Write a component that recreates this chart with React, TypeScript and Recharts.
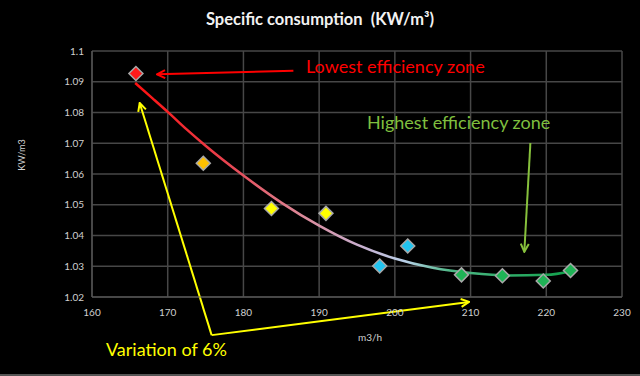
import React from 'react';
import {
  ComposedChart,
  Line,
  Scatter,
  XAxis,
  YAxis,
  CartesianGrid,
  ReferenceLine,
} from 'recharts';

// --- Data ---

const flowRates = [165.8, 174.7, 183.7, 190.9, 198.0, 201.7, 208.8, 214.2, 219.6, 223.2];
const consumption = [1.0927, 1.0635, 1.0488, 1.0472, 1.0301, 1.0366, 1.0272, 1.0269, 1.0252, 1.0286];

// trend line (polynomial fit in the original)
const trendFlow = [165.7, 168, 170, 172.5, 175, 180, 185, 190, 195, 200, 205, 210, 215, 220, 223.3];
const trendValues = [1.0896, 1.0846, 1.0802, 1.0745, 1.0692, 1.0595, 1.0507, 1.0432, 1.037, 1.0325, 1.0295, 1.0278, 1.027, 1.0272, 1.0284];

const xTicks = [160, 170, 180, 190, 200, 210, 220, 230];
const yTicks = [1.02, 1.03, 1.04, 1.05, 1.06, 1.07, 1.08, 1.09, 1.1];

// --- Styles ---

const pointColors = [
  '#ff1a1a', '#ffc000', '#ffff00', '#ffff00', '#22c4f0',
  '#22c4f0', '#1fb356', '#1fb356', '#1fb356', '#1fb356',
];

const FONT = 'Lato, "Open Sans", sans-serif';
const TICK_STYLE = { fill: '#d0d0d0', fontSize: 10, fontFamily: FONT };

const points = flowRates.map((x, i) => ({ x, y: consumption[i], i }));
const trend = trendFlow.map((x, i) => ({ x, y: trendValues[i] }));

const Diamond = (props: any) => {
  const { cx, cy, payload } = props;
  if (cx == null || cy == null) return null;
  const r = 7;
  const color = pointColors[payload.i];
  return (
    <path
      d={`M${cx},${cy - r} L${cx + r},${cy} L${cx},${cy + r} L${cx - r},${cy} Z`}
      fill={color}
      stroke="#a8a8a8"
      strokeWidth={1.5}
    />
  );
};

const overlayText = (style: React.CSSProperties): React.CSSProperties => ({
  position: 'absolute',
  whiteSpace: 'nowrap',
  fontFamily: FONT,
  lineHeight: 1,
  ...style,
});

export default function App() {
  return (
    <div style={{ position: 'absolute', left: 0, top: 0, width: 640, height: 376, background: '#000', overflow: 'hidden' }}>
      <ComposedChart width={640} height={376} margin={{ top: 51, right: 18, bottom: 0, left: 0 }}>
        <defs>
          <linearGradient id="trendGrad" x1="0" y1="0" x2="1" y2="0">
            <stop offset="0%" stopColor="#ff1010" />
            <stop offset="20%" stopColor="#e8404c" />
            <stop offset="38%" stopColor="#dc8898" />
            <stop offset="52%" stopColor="#c8b0d0" />
            <stop offset="62%" stopColor="#b8d0e8" />
            <stop offset="72%" stopColor="#50b888" />
            <stop offset="100%" stopColor="#10a04a" />
          </linearGradient>
          <marker id="arrowRed" viewBox="0 0 10 10" refX="9" refY="5" markerWidth="10" markerHeight="10" markerUnits="userSpaceOnUse" orient="auto">
            <path d="M1,1 L9,5 L1,9" fill="none" stroke="#ff0000" strokeWidth={2} />
          </marker>
          <marker id="arrowYellow" viewBox="0 0 10 10" refX="9" refY="5" markerWidth="10" markerHeight="10" markerUnits="userSpaceOnUse" orient="auto">
            <path d="M1,1 L9,5 L1,9" fill="none" stroke="#ffff00" strokeWidth={2} />
          </marker>
          <marker id="arrowGreen" viewBox="0 0 10 10" refX="9" refY="5" markerWidth="10" markerHeight="10" markerUnits="userSpaceOnUse" orient="auto">
            <path d="M1,1 L9,5 L1,9" fill="none" stroke="#86c03c" strokeWidth={2} />
          </marker>
        </defs>
        <CartesianGrid stroke="#474747" strokeWidth={1.5} />
        <XAxis
          type="number"
          dataKey="x"
          domain={[160, 230]}
          ticks={xTicks}
          allowDataOverflow
          height={79}
          axisLine={{ stroke: '#5a5a5a' }}
          tickLine={false}
          tickMargin={6}
          tick={TICK_STYLE}
        />
        <YAxis
          type="number"
          dataKey="y"
          domain={[1.02, 1.1]}
          ticks={yTicks}
          allowDataOverflow
          width={92}
          axisLine={{ stroke: '#5a5a5a' }}
          tickLine={false}
          tick={TICK_STYLE}
        />
        <Line
          data={trend}
          dataKey="y"
          type="monotone"
          stroke="url(#trendGrad)"
          strokeWidth={2.5}
          dot={false}
          activeDot={false}
          isAnimationActive={false}
        />
        <Scatter data={points} dataKey="y" shape={<Diamond />} isAnimationActive={false} />

        {/* annotations */}
        <ReferenceLine
          segment={[{ x: 186.6, y: 1.0936 }, { x: 168.6, y: 1.0924 }]}
          stroke="#ff0000"
          strokeWidth={2}
          markerEnd="url(#arrowRed)"
          ifOverflow="visible"
        />
        <ReferenceLine
          segment={[{ x: 175.8, y: 1.0076 }, { x: 166.3, y: 1.0831 }]}
          stroke="#ffff00"
          strokeWidth={2}
          markerEnd="url(#arrowYellow)"
          ifOverflow="visible"
        />
        <ReferenceLine
          segment={[{ x: 175.8, y: 1.0076 }, { x: 209.8, y: 1.0184 }]}
          stroke="#ffff00"
          strokeWidth={2}
          markerEnd="url(#arrowYellow)"
          ifOverflow="visible"
        />
        <ReferenceLine
          segment={[{ x: 217.9, y: 1.0701 }, { x: 217.1, y: 1.0347 }]}
          stroke="#86c03c"
          strokeWidth={2}
          markerEnd="url(#arrowGreen)"
          ifOverflow="visible"
        />
      </ComposedChart>

      <div style={overlayText({ left: 0, width: 640, top: 11, textAlign: 'center', color: '#f2f2f2', fontWeight: 700, fontSize: 16.5 })}>
        Specific consumption&nbsp;&nbsp;(KW/m³)
      </div>
      <div style={overlayText({ left: 21, top: 155, color: '#d0d0d0', fontSize: 9, transform: 'translate(-50%, -50%) rotate(-90deg)' })}>
        KW/m3
      </div>
      <div style={overlayText({ left: 370, top: 337, color: '#d0d0d0', fontSize: 10, transform: 'translate(-50%, -50%)' })}>
        m3/h
      </div>
      <div style={overlayText({ left: 306, top: 57, color: '#ff0000', fontSize: 18 })}>
        Lowest efficiency zone
      </div>
      <div style={overlayText({ left: 367, top: 113, color: '#7fbf3f', fontSize: 18 })}>
        Highest efficiency zone
      </div>
      <div style={overlayText({ left: 106, top: 340, color: '#ffff00', fontSize: 18 })}>
        Variation of 6%
      </div>
      <div style={{ position: 'absolute', left: 0, bottom: 0, width: 640, height: 2, background: '#555' }} />
    </div>
  );
}
